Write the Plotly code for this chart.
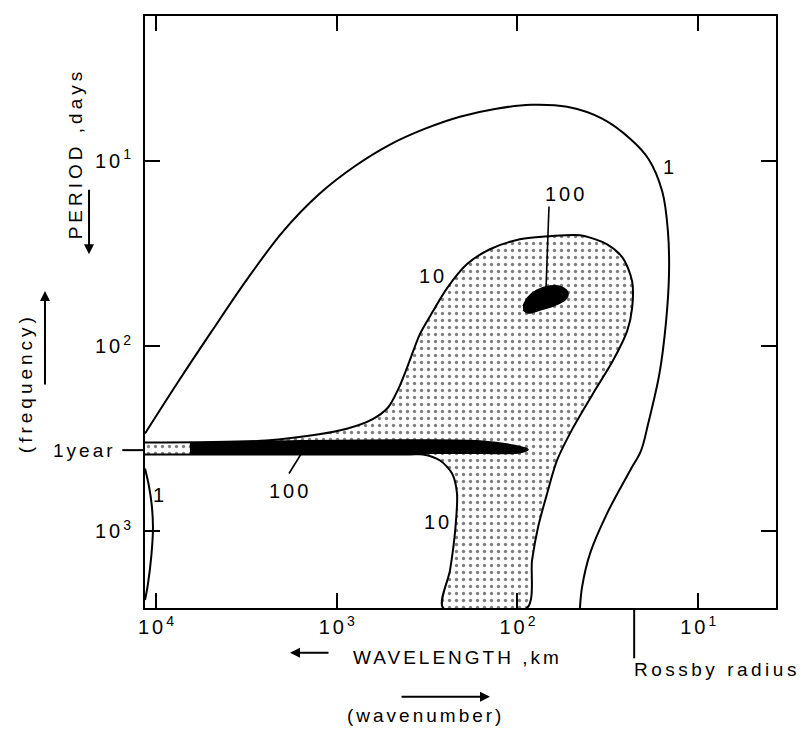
import numpy as np
import plotly.graph_objects as go

# ---------------- data ----------------
# axes (wavelength in km, period in days)
x_tick_vals = [1e4, 1e3, 1e2, 1e1]
x_tick_exps = ["4", "3", "2", "1"]
y_tick_vals = [10, 100, 1000]
y_tick_exps = ["1", "2", "3"]
one_year_days = 365
rossby_radius_km = 22.6
x_range_km = [11500, 3.71]
y_range_days = [2594, 1.66]

# contour "1" (outer curve)
c1_len = [11500, 7660, 4900, 3100, 1980, 1254, 802, 507, 324, 208, 131, 84.1, 53.1,
          34.0, 23.8, 18.9, 15.8, 14.7, 14.5, 15.1, 16.4, 18.9, 20.7, 23.8, 31.9, 39.6,
          43.9, 45.1]
c1_per = [297, 160, 83.0, 43.1, 24.1, 15.2, 10.8, 8.20, 6.73, 5.80, 5.25, 5.00, 5.13,
          5.94, 7.62, 9.75, 14.7, 24.1, 41.0, 76.2, 142, 262, 367, 470, 800, 1312,
          2000, 2594]

# contour "1" (small lens near the left edge)
lens_len = [11500, 10950, 10550, 10390, 10600, 11100, 11500]
lens_per = [458, 566, 725, 951, 1346, 1950, 2350]

# contour "10" (stippled region, including the annual band)
c10_len = [11500, 2460, 1254, 880, 640, 520, 455, 408, 346, 293, 245, 190, 142, 96.9,
           66.1, 45.1, 31.9, 26.1, 23.2, 23.2, 24.7, 29.6, 38.2, 49.2, 60.4, 68.5, 76.9,
           83.0, 88.5, 258, 236, 221, 216, 230, 268, 333, 393, 11500]
c10_per = [332, 324, 300, 280, 250, 215, 170, 131, 86.1, 64.9, 48.8, 36.2, 30.1, 26.6,
           25.6, 25.3, 28.3, 33.6, 44.8, 62.5, 83.0, 120, 181, 276, 415, 625, 951,
           1432, 2594, 2594, 1622, 988, 625, 488, 415, 385, 385, 385]

# contour "100" (annual band)
band_len = [6490, 1596, 447, 161, 103, 87.3, 96.9, 161, 447, 1596, 6490]
band_per = [335, 325, 322, 326, 345, 362, 377, 379, 380, 380, 379]

# contour "100" (mesoscale blob)
blob_len = [93.1, 87.3, 78.0, 66.1, 56.6, 52.5, 54.6, 62.0, 75.0, 87.3, 93.1]
blob_per = [60.9, 54.6, 50.0, 47.5, 48.2, 51.9, 56.6, 60.3, 64.0, 66.5, 64.0]

# leader lines
lead_band_len = [1556, 1836]
lead_band_per = [376, 488]
lead_blob_len = [66.9, 69.5]
lead_blob_per = [17.7, 49.4]

# contour labels: (text, wavelength, period)
labels = [("1", 14.3, 10.8), ("100", 53.8, 15.2), ("10", 293, 42.1),
          ("100", 1811, 603), ("10", 275, 895), ("1", 9500, 640)]

FONT = "Liberation Sans, Arial, sans-serif"


def sp(t, ls=4):
    return f'<span style="letter-spacing:{ls}px">{t}</span>'


fig = go.Figure()

fig.add_trace(go.Scatter(
    x=c10_len, y=c10_per, mode="lines", fill="toself",
    fillpattern=dict(shape=".", size=7, solidity=0.18, fgcolor="black", bgcolor="white"),
    line=dict(color="black", width=2, shape="spline", smoothing=0.8),
    hoverinfo="skip", showlegend=False))

fig.add_trace(go.Scatter(
    x=band_len, y=band_per, mode="lines", fill="toself", fillcolor="black",
    line=dict(color="black", width=1.5, shape="spline"), hoverinfo="skip", showlegend=False))

fig.add_trace(go.Scatter(
    x=blob_len, y=blob_per, mode="lines", fill="toself", fillcolor="black",
    line=dict(color="black", width=1.5, shape="spline"), hoverinfo="skip", showlegend=False))

fig.add_trace(go.Scatter(
    x=c1_len, y=c1_per, mode="lines", line=dict(color="black", width=2, shape="spline"),
    hoverinfo="skip", showlegend=False))

fig.add_trace(go.Scatter(
    x=lens_len, y=lens_per, mode="lines", line=dict(color="black", width=2, shape="spline"),
    hoverinfo="skip", showlegend=False))

for lx, ly in [(lead_band_len, lead_band_per), (lead_blob_len, lead_blob_per)]:
    fig.add_trace(go.Scatter(x=lx, y=ly, mode="lines", line=dict(color="black", width=1.6),
                             hoverinfo="skip", showlegend=False))

annotations = []
for txt, lx, ly in labels:
    annotations.append(dict(x=np.log10(lx), y=np.log10(ly), xref="x", yref="y",
                            xanchor="center", yanchor="middle",
                            text=sp(txt, 3), showarrow=False,
                            font=dict(family=FONT, size=20, color="black")))

txt_font = dict(family=FONT, size=19, color="black")
# left axis labels
annotations.append(dict(x=-0.043, y=np.log10(one_year_days), xref="paper", yref="y",
                        xanchor="right", yanchor="middle", text=sp("1year", 3),
                        showarrow=False, font=txt_font))
annotations.append(dict(x=-0.111, y=0.768, xref="paper", yref="paper", textangle=-90,
                        xanchor="center", yanchor="middle",
                        text=sp("PERIOD ,days", 4), showarrow=False, font=txt_font))
annotations.append(dict(x=-0.190, y=0.380, xref="paper", yref="paper", textangle=-90,
                        xanchor="center", yanchor="middle",
                        text=sp("(frequency)", 4), showarrow=False, font=txt_font))
# bottom labels
annotations.append(dict(x=0.496, y=-0.084, xref="paper", yref="paper",
                        xanchor="center", yanchor="middle",
                        text=sp("WAVELENGTH ,km", 3), showarrow=False, font=txt_font))
annotations.append(dict(x=0.444, y=-0.182, xref="paper", yref="paper",
                        xanchor="center", yanchor="middle",
                        text=sp("(wavenumber)", 3), showarrow=False, font=txt_font))
annotations.append(dict(x=0.772, y=-0.104, xref="paper", yref="paper",
                        xanchor="left", yanchor="middle",
                        text=sp("Rossby radius", 3.5), showarrow=False, font=txt_font))

# arrows
for hx, hy, ax, ay in [(-0.0887, 0.5976, 0, -66), (-0.1585, 0.5354, 0, 95),
                       (0.2298, -0.0758, 40, 0), (0.5468, -0.1498, -90, 0)]:
    annotations.append(dict(x=hx, y=hy, xref="paper", yref="paper", ax=ax, ay=ay,
                            text="", showarrow=True, arrowhead=2, arrowsize=1,
                            arrowwidth=2, arrowcolor="black"))

shapes = [
    dict(type="line", xref="paper", yref="y", x0=-0.036, x1=0,
         y0=one_year_days, y1=one_year_days, line=dict(color="black", width=2)),
    dict(type="line", xref="x", yref="paper", x0=rossby_radius_km, x1=rossby_radius_km,
         y0=0, y1=-0.085, line=dict(color="black", width=2)),
]

axis_common = dict(type="log", showgrid=False, zeroline=False, showline=True,
                   linecolor="black", linewidth=2, mirror="ticks", ticks="inside",
                   ticklen=15, tickwidth=2, tickcolor="black",
                   tickfont=dict(family=FONT, size=20, color="black"))

# the page body has an 8px margin: the figure is sized/offset to compensate
fig.update_layout(
    width=804, height=723,
    margin=dict(l=137, r=36, t=6, b=123),
    paper_bgcolor="white", plot_bgcolor="white",
    xaxis=dict(range=[np.log10(x_range_km[0]), np.log10(x_range_km[1])],
               tickvals=x_tick_vals,
               ticktext=[sp("10", 3) + f"<sup>{e}</sup>" for e in x_tick_exps],
               **axis_common),
    yaxis=dict(range=[np.log10(y_range_days[0]), np.log10(y_range_days[1])],
               tickvals=y_tick_vals,
               ticktext=[sp("10", 3) + f"<sup>{e}</sup>" for e in y_tick_exps],
               ticklabelstandoff=8,
               **axis_common),
    annotations=annotations,
    shapes=shapes,
)

fig.write_html("out.html")
